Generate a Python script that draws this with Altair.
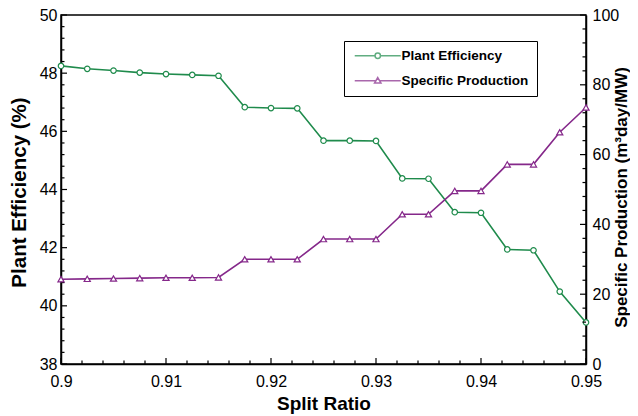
import altair as alt
import pandas as pd

# ---------------- data ----------------
split_ratio = [0.9, 0.9025, 0.905, 0.9075, 0.91, 0.9125, 0.915, 0.9175, 0.92, 0.9225,
               0.925, 0.9275, 0.93, 0.9325, 0.935, 0.9375, 0.94, 0.9425, 0.945, 0.9475, 0.95]
plant_eff = [48.25, 48.15, 48.09, 48.02, 47.97, 47.94, 47.91, 46.83, 46.80, 46.79,
             45.68, 45.68, 45.67, 44.38, 44.37, 43.22, 43.20, 41.94, 41.91, 40.49, 39.43]
spec_prod = [24.3, 24.4, 24.5, 24.6, 24.7, 24.7, 24.8, 30.0, 30.0, 30.0,
             35.8, 35.8, 35.8, 42.9, 42.9, 49.6, 49.6, 57.2, 57.2, 66.4, 73.5]

series_names = ["Plant Efficiency", "Specific Production"]
series_colors = ["#1f8b4c", "#85288a"]

x_ticks = [0.9, 0.91, 0.92, 0.93, 0.94, 0.95]
eff_ticks = [38, 40, 42, 44, 46, 48, 50]
prod_ticks = [0, 20, 40, 60, 80, 100]

x_minor = [round(0.9 + 0.002 * i, 3) for i in range(26) if i % 5]
eff_minor = [round(38 + 0.4 * i, 1) for i in range(31) if i % 5]
prod_minor = [4 * i for i in range(26) if i % 5]

# legend symbols: line + marker as custom paths
legend_paths = [
    "M-7.67,0L-0.9,0M0.9,0L7.67,0M-0.9,0A0.9,0.9,0,1,0,0.9,0A0.9,0.9,0,1,0,-0.9,0Z",
    "M-7.67,0L-0.62,0M0.62,0L7.67,0M0,-1.07L1.07,0.77L-1.07,0.77Z",
]

df = pd.DataFrame({"x": split_ratio, "eff": plant_eff, "prod": spec_prod})

W, H = 525, 349
FONT = "Liberation Sans"
GREEN, PURPLE = series_colors

xscale = alt.Scale(domain=[0.9, 0.95], nice=False, zero=False)
effscale = alt.Scale(domain=[38, 50], nice=False, zero=False)
prodscale = alt.Scale(domain=[0, 100], nice=False, zero=False)

common_axis = dict(ticks=False, grid=False, domainColor="black", domainWidth=1.5,
                   labelColor="black", titleColor="black", labelFont=FONT, titleFont=FONT,
                   labelFontSize=16, titleFontWeight="bold")

x_axis = alt.Axis(values=x_ticks, format=".2~f", title="Split Ratio",
                  labelFlush=False, labelPadding=9, titlePadding=5, titleFontSize=19,
                  orient="bottom", **common_axis)
eff_axis = alt.Axis(values=eff_ticks, format="d", title="Plant Efficiency (%)",
                    orient="left", labelPadding=4, titlePadding=10, titleFontSize=20.5,
                    titleY=177, **common_axis)
prod_axis = alt.Axis(values=prod_ticks, format="d",
                     title="Specific Production (m³day/MW)", titleFontSize=17,
                     orient="right", labelPadding=6, titleX=27, titleY=182,
                     titleAngle=270, titleBaseline="top", **common_axis)

x_enc = alt.X("x:Q", scale=xscale, axis=x_axis)
eff_y = alt.Y("eff:Q", scale=effscale, axis=eff_axis)
prod_y = alt.Y("prod:Q", scale=prodscale, axis=prod_axis)

base = alt.Chart(df)
eff_line = base.mark_line(color=GREEN, strokeWidth=1.6).encode(x=x_enc, y=eff_y)
eff_pts = base.mark_point(shape="circle", filled=True, fill="white", stroke=GREEN,
                          size=30, strokeWidth=1.2, opacity=1).encode(x=x_enc, y=eff_y)
prod_line = base.mark_line(color=PURPLE, strokeWidth=1.6).encode(x=x_enc, y=prod_y)
prod_pts = base.mark_point(shape="triangle-up", filled=True, fill="white", stroke=PURPLE,
                           size=38, strokeWidth=1.2, opacity=1).encode(x=x_enc, y=prod_y)


def yticks(values, scale, axis, x0, x1):
    return alt.Chart(pd.DataFrame({"v": values})).mark_rule(color="black", strokeWidth=1.2).encode(
        y=alt.Y("v:Q", scale=scale, axis=axis), x=alt.value(x0), x2=alt.value(x1))


def xticks(values, length):
    return alt.Chart(pd.DataFrame({"v": values})).mark_rule(color="black", strokeWidth=1.2).encode(
        x=alt.X("v:Q", scale=xscale, axis=x_axis), y=alt.value(H), y2=alt.value(H - length))


eff_layer = alt.layer(eff_line, eff_pts,
                      yticks(eff_ticks, effscale, eff_axis, 0, 6),
                      yticks(eff_minor, effscale, eff_axis, 0, 3.5))
prod_layer = alt.layer(prod_line, prod_pts,
                       yticks(prod_ticks, prodscale, prod_axis, W, W - 6),
                       yticks(prod_minor, prodscale, prod_axis, W, W - 3.5))

legend_props = dict(title=None, orient="none", legendX=283, legendY=26, padding=8,
                    strokeColor="black", fillColor="white", symbolSize=36,
                    symbolStrokeWidth=1.5, symbolOffset=19, labelOffset=17, rowPadding=10,
                    labelFont=FONT, labelFontSize=13.5, labelFontWeight="bold",
                    labelColor="black")

legend_layer = alt.Chart(pd.DataFrame({"series": series_names})).mark_point(
    filled=False, strokeWidth=1.5, size=36).encode(
    color=alt.Color("series:N", scale=alt.Scale(domain=series_names, range=series_colors),
                    legend=alt.Legend(**legend_props)),
    shape=alt.Shape("series:N", scale=alt.Scale(domain=series_names, range=legend_paths),
                    legend=alt.Legend(**legend_props)),
).transform_filter("false")

chart = alt.layer(
    eff_layer, prod_layer, xticks(x_ticks, 6), xticks(x_minor, 3.5), legend_layer
).resolve_scale(y="independent").properties(
    width=W, height=H,
    padding={"left": 53, "top": 7, "right": 44, "bottom": 52},
    autosize=alt.AutoSizeParams(type="none"),
).configure(font=FONT).configure_view(stroke="black", strokeWidth=1.5)

chart.save("out.html", embed_options={"renderer": "svg", "actions": False})
